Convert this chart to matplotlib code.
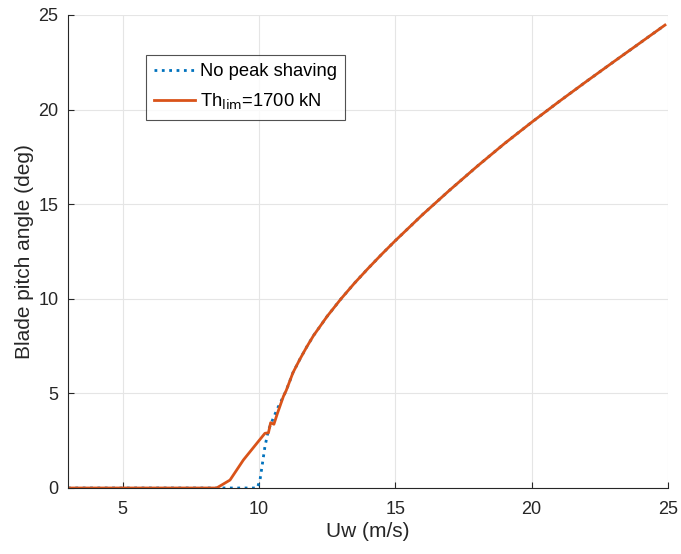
import matplotlib.pyplot as plt

plt.rcParams['font.family'] = ['Liberation Sans', 'DejaVu Sans']

# wind speed (m/s) and pitch angle (deg)
u_limit = [3.0, 8.45, 8.94, 9.43, 10.04, 10.22, 10.35, 10.43, 10.55, 10.68,
           10.9, 11.0, 11.25, 11.5, 11.75, 12.0, 12.5, 13.0, 13.5, 14.0, 14.5,
           15.0, 16.0, 17.0, 18.0, 19.0, 20.0, 21.0, 22.0, 23.0, 24.0, 24.89]
pitch_limit = [0.0, 0.0, 0.42, 1.48, 2.57, 2.89, 2.92, 3.45, 3.37, 3.95,
               4.85, 5.15, 6.1, 6.8, 7.45, 8.05, 9.07, 9.98, 10.82, 11.6, 12.35,
               13.07, 14.45, 15.75, 17.0, 18.2, 19.33, 20.42, 21.48, 22.52, 23.55, 24.47]

u_nops = [3.0, 9.94, 10.04, 10.22, 10.35, 10.55, 10.68,
          10.9, 11.0, 11.25, 11.5, 11.75, 12.0, 12.5, 13.0, 13.5, 14.0, 14.5,
          15.0, 16.0, 17.0, 18.0, 19.0, 20.0, 21.0, 22.0, 23.0, 24.0, 24.89]
pitch_nops = [0.0, 0.0, 0.42, 2.18, 3.07, 3.77, 4.2,
              4.85, 5.15, 6.1, 6.8, 7.45, 8.05, 9.07, 9.98, 10.82, 11.6, 12.35,
              13.07, 14.45, 15.75, 17.0, 18.2, 19.33, 20.42, 21.48, 22.52, 23.55, 24.47]

fig = plt.figure(figsize=(6.81, 5.54), dpi=100)
ax = fig.add_axes([68 / 681, 1 - 488 / 554, 600 / 681, 473 / 554])

ax.plot(u_nops, pitch_nops, ':', color='#0072BD', lw=2, label='No peak shaving')
ax.plot(u_limit, pitch_limit, '-', color='#D95319', lw=2, label=r'Th$_{\mathrm{lim}}$=1700 kN')

ax.set_xlim(3, 25)
ax.set_ylim(0, 25)
ax.set_xticks([5, 10, 15, 20, 25])
ax.set_yticks([0, 5, 10, 15, 20, 25])
ax.grid(True, color='#e5e5e5', lw=0.8)
ax.set_axisbelow(True)
ax.spines['top'].set_visible(False)
ax.spines['right'].set_visible(False)
for s in ['left', 'bottom']:
    ax.spines[s].set_color('#262626')
ax.tick_params(direction='in', length=4, labelsize=13, colors='#262626')
ax.tick_params(axis='x', pad=9)
ax.tick_params(axis='y', pad=7)

ax.set_xlabel('Uw (m/s)', fontsize=15, color='#262626', labelpad=3)
ax.set_ylabel('Blade pitch angle (deg)', fontsize=15, color='#262626', labelpad=3)

leg = ax.legend(loc='upper left', bbox_to_anchor=(78 / 600, 1 - 40 / 473),
                fontsize=13.2, frameon=True, fancybox=False, edgecolor='#262626',
                handlelength=2.2, handletextpad=0.3, borderpad=0.45, labelspacing=0.6,
                borderaxespad=0)
leg.get_frame().set_linewidth(0.8)

fig.savefig('out.png', dpi=100)
